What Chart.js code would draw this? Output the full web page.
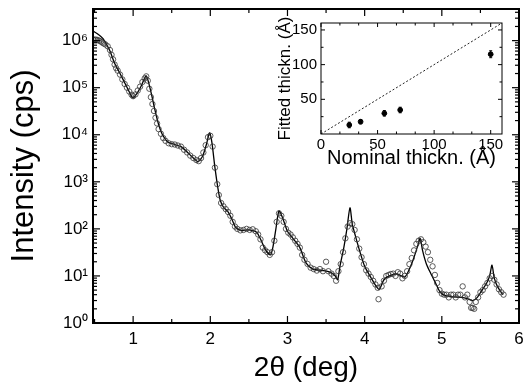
<!DOCTYPE html>
<html lang="en">
<head>
<meta charset="UTF-8">
<title>X-ray reflectivity</title>
<script src="https://cdn.jsdelivr.net/npm/chart.js"></script>
<style>
  body { margin: 0; background: #fff; }
  #wrap { position: relative; width: 524px; height: 390px; }
  #main { position: absolute; left: 0; top: 0; }
  #inset { position: absolute; left: 250px; top: 12px; }
</style>
</head>
<body>
<div id="wrap">
  <canvas id="main" width="524" height="390"></canvas>
  <canvas id="inset" width="262" height="172"></canvas>
</div>
<script>
// measured reflectivity (open circles)
const thetaMeas = [0.48,0.50,0.52,0.54,0.56,0.58,0.60,0.62,0.64,0.67,0.70,0.72,0.74,0.76,0.78,0.80,0.83,0.86,0.89,0.92,0.95,0.98,1.00,1.03,1.06,1.09,1.12,1.15,1.17,1.19,1.21,1.23,1.25,1.27,1.29,1.31,1.33,1.36,1.39,1.42,1.46,1.50,1.54,1.58,1.62,1.66,1.70,1.74,1.78,1.82,1.85,1.88,1.91,1.94,1.97,2.00,2.03,2.06,2.09,2.11,2.14,2.17,2.20,2.23,2.26,2.29,2.32,2.35,2.39,2.43,2.47,2.51,2.55,2.59,2.62,2.65,2.68,2.71,2.74,2.77,2.80,2.83,2.86,2.89,2.92,2.95,2.98,3.01,3.04,3.07,3.10,3.13,3.16,3.19,3.22,3.26,3.30,3.34,3.38,3.42,3.46,3.50,3.53,3.57,3.60,3.63,3.66,3.69,3.72,3.75,3.78,3.81,3.84,3.87,3.90,3.93,3.96,3.99,4.02,4.05,4.08,4.11,4.14,4.17,4.18,4.22,4.25,4.28,4.31,4.34,4.37,4.40,4.43,4.46,4.49,4.52,4.55,4.58,4.61,4.64,4.67,4.70,4.73,4.76,4.79,4.82,4.85,4.88,4.91,4.94,4.97,5.00,5.03,5.06,5.09,5.12,5.15,5.18,5.21,5.24,5.27,5.30,5.33,5.36,5.38,5.40,5.42,5.44,5.47,5.50,5.53,5.56,5.59,5.62,5.65,5.68,5.71,5.74,5.77,5.80];
const intensityMeas = [1.05e6,1.05e6,1.05e6,1.03e6,1.0e6,9.6e5,9.1e5,8.7e5,8.3e5,7.6e5,6.3e5,5.0e5,4.0e5,3.1e5,2.6e5,2.3e5,1.9e5,1.5e5,1.2e5,1.0e5,8.3e4,7.1e4,6.6e4,7.2e4,8.7e4,1.05e5,1.32e5,1.58e5,1.74e5,1.41e5,9.5e4,6.3e4,4.5e4,3.2e4,2.3e4,1.74e4,1.32e4,1.05e4,8500,7400,6600,6300,6200,5900,5600,4800,4200,3600,3200,2900,2750,3200,4200,6000,8900,9500,5600,2000,890,525,355,302,263,229,190,141,112,100,93,95,100,95,98,89,76,60,40,35,32,28,32,56,141,214,190,141,100,83,76,66,56,48,40,28,22,18,15,14,13,14,12.6,20,12.6,11.2,10,7.9,12.6,17.8,32,63,112,132,126,95,60,38,25,17.8,13.2,11.2,9.5,7.9,6.6,5.6,3.2,6.0,7.9,10,10.5,11,11.2,10,12,11.2,8.9,10,12.6,17.8,24,35,48,56,60,52,42,32,22,16,10.5,7.1,5.0,4.2,4.0,4.0,3.5,4.0,4.0,3.5,4.0,4.0,6.0,3.5,4.0,2.8,2.1,2.1,2.0,2.8,3.5,4.5,5.0,6.0,7.1,8.9,10,8.3,6.6,5.2,4.5,4.0];

// fitted curve (solid line)
const thetaFit = [0.48,0.55,0.61,0.66,0.70,0.76,0.83,0.91,0.97,1.00,1.05,1.10,1.15,1.17,1.20,1.24,1.28,1.33,1.38,1.45,1.54,1.62,1.70,1.78,1.84,1.90,1.95,1.99,2.02,2.06,2.10,2.13,2.17,2.23,2.28,2.33,2.40,2.50,2.60,2.66,2.72,2.78,2.81,2.85,2.89,2.94,3.00,3.08,3.16,3.24,3.33,3.46,3.55,3.62,3.65,3.68,3.73,3.77,3.81,3.84,3.88,3.94,4.00,4.08,4.15,4.19,4.25,4.32,4.42,4.52,4.58,4.64,4.69,4.72,4.75,4.80,4.86,4.92,4.98,5.05,5.15,5.25,5.33,5.40,5.46,5.52,5.58,5.62,5.65,5.68,5.72,5.79];
const intensityFit = [1.6e6,1.35e6,1.1e6,8.0e5,6.0e5,3.3e5,2.0e5,1.1e5,7.0e4,6.0e4,7.6e4,1.05e5,1.6e5,1.78e5,1.3e5,7.0e4,3.5e4,1.65e4,1.0e4,7000,6200,5600,4300,3200,2700,3500,6300,1.1e4,7000,2000,710,400,290,230,160,107,93,95,85,56,35,28,40,100,240,166,89,60,40,19,14,13,12,10,8.3,16,40,100,280,126,71,32,16,9.3,6,5.2,8.3,10,11,9.5,14,25,45,63,35,18,11,7,4.5,3.8,3.6,3.5,3.3,3.0,3.5,5,7,10,17,9,6,4];

// axis ticks of the main plot
const mainXTicks = [1, 2, 3, 4, 5, 6];
const mainXMinor = [0.5, 1.5, 2.5, 3.5, 4.5, 5.5];
const mainYTicks = [1, 10, 100, 1e3, 1e4, 1e5, 1e6];

// inset: fitted vs nominal thickness
const nominalThk = [25, 35, 56, 70, 150];
const fittedThk = [13, 17.7, 29.8, 34.6, 115];
const fittedErr = [4, 3, 4, 4, 5];
const idealLine = [0, 160];
const insetXTicks = [0, 50, 100, 150];
const insetXMinor = [16.7, 33.3, 66.7, 83.3, 116.7, 133.3];
const insetYTicks = [50, 100, 150];
const insetYMinor = [25, 75, 125];

const FONT = 'Liberation Sans, Arial, Helvetica, sans-serif';
const sup = ['⁰','¹','²','³','⁴','⁵','⁶','⁷'];

// frame + inward tick marks on all four sides
const frameTicks = {
  id: 'frameTicks',
  afterDatasetsDraw(chart, args, o) {
    const {ctx, chartArea: a} = chart;
    const x = chart.scales.x, y = chart.scales.y;
    ctx.save();
    ctx.strokeStyle = '#000';
    ctx.lineWidth = o.tickWidth;
    const seg = (x0, y0, x1, y1) => { ctx.beginPath(); ctx.moveTo(x0, y0); ctx.lineTo(x1, y1); ctx.stroke(); };
    const xs = (vals, len) => vals.forEach(v => {
      const p = x.getPixelForValue(v);
      if (p < a.left || p > a.right) return;
      seg(p, a.bottom, p, a.bottom - len);
      seg(p, a.top, p, a.top + len);
    });
    const ys = (vals, len) => vals.forEach(v => {
      const p = y.getPixelForValue(v);
      if (p < a.top - 0.5 || p > a.bottom + 0.5) return;
      seg(a.left, p, a.left + len, p);
      seg(a.right, p, a.right - len, p);
    });
    xs(o.xMajor, o.major); xs(o.xMinor, o.minor);
    ys(o.yMajor, o.major); ys(o.yMinor, o.minor);
    ctx.lineWidth = o.frameWidth;
    ctx.strokeRect(a.left, a.top, a.right - a.left, a.bottom - a.top);
    ctx.restore();
  }
};

// vertical error bars for the inset
const errorBars = {
  id: 'errorBars',
  afterDatasetsDraw(chart, args, o) {
    if (!o.values) return;
    const {ctx} = chart;
    const x = chart.scales.x, y = chart.scales.y;
    const ds = chart.data.datasets[o.dataset];
    ctx.save();
    ctx.strokeStyle = '#000';
    ctx.lineWidth = 1;
    ds.data.forEach((p, i) => {
      const px = x.getPixelForValue(p.x);
      const top = y.getPixelForValue(p.y + o.values[i]);
      const bot = y.getPixelForValue(p.y - o.values[i]);
      ctx.beginPath();
      ctx.moveTo(px, top); ctx.lineTo(px, bot);
      ctx.moveTo(px - 1.5, top); ctx.lineTo(px + 1.5, top);
      ctx.moveTo(px - 1.5, bot); ctx.lineTo(px + 1.5, bot);
      ctx.stroke();
    });
    ctx.restore();
  }
};

// fixed axis box sizes, no label overhang padding
const fixW = w => s => { s.width = w; s.paddingTop = 0; s.paddingBottom = 0; };
const fixH = h => s => { s.height = h; s.paddingLeft = 0; s.paddingRight = 0; };

const yMinorMain = [];
mainYTicks.forEach(d => { for (let k = 2; k <= 9; k++) yMinorMain.push(d * k); });

new Chart(document.getElementById('main'), {
  type: 'scatter',
  data: {
    datasets: [
      {
        data: thetaMeas.map((t, i) => ({x: t, y: intensityMeas[i]})),
        pointStyle: 'circle',
        pointRadius: 2.7,
        pointBorderWidth: 0.8,
        pointBorderColor: '#333',
        pointBackgroundColor: 'rgba(255,255,255,0)',
        order: 1
      },
      {
        data: thetaFit.map((t, i) => ({x: t, y: intensityFit[i]})),
        showLine: true,
        pointRadius: 0,
        borderColor: '#000',
        borderWidth: 1.3,
        tension: 0.25,
        order: 2
      }
    ]
  },
  options: {
    responsive: false,
    animation: false,
    events: [],
    layout: { padding: { top: 9, right: 5, left: 0, bottom: 0 } },
    plugins: {
      legend: { display: false },
      tooltip: { enabled: false },
      frameTicks: { xMajor: mainXTicks, xMinor: mainXMinor, yMajor: mainYTicks, yMinor: yMinorMain, major: 7, minor: 4, tickWidth: 1.2, frameWidth: 2 },
      errorBars: {}
    },
    scales: {
      x: {
        type: 'linear', min: 0.48, max: 6,
        grid: { display: false, drawTicks: false },
        border: { display: false },
        afterBuildTicks: s => { s.ticks = mainXTicks.map(v => ({value: v})); },
        afterFit: fixH(67),
        ticks: { color: '#000', font: { family: FONT, size: 17 }, padding: 6, maxRotation: 0 },
        title: { display: true, text: '2θ (deg)', color: '#000', font: { family: FONT, size: 28 }, padding: { bottom: 5 } }
      },
      y: {
        type: 'logarithmic', min: 1, max: 4.7e6,
        grid: { display: false, drawTicks: false },
        border: { display: false },
        afterBuildTicks: s => { s.ticks = mainYTicks.map(v => ({value: v})); },
        afterFit: fixW(93),
        ticks: { color: '#000', font: { family: FONT, size: 17 }, padding: 5,
          callback: v => '10' + sup[Math.round(Math.log10(v))] },
        title: { display: true, text: 'Intensity (cps)', color: '#000', font: { family: FONT, size: 31 }, padding: { top: 6 } }
      }
    }
  },
  plugins: [frameTicks]
});

new Chart(document.getElementById('inset'), {
  type: 'scatter',
  data: {
    datasets: [
      {
        data: nominalThk.map((t, i) => ({x: t, y: fittedThk[i]})),
        pointStyle: 'circle',
        pointRadius: 2.4,
        pointBackgroundColor: '#000',
        pointBorderColor: '#000',
        order: 1
      },
      {
        data: idealLine.map(v => ({x: v, y: v})),
        showLine: true,
        pointRadius: 0,
        borderColor: '#222',
        borderWidth: 1,
        borderDash: [2, 2],
        order: 2
      }
    ]
  },
  options: {
    responsive: false,
    animation: false,
    events: [],
    layout: { padding: { top: 11, right: 10, left: 0, bottom: 0 } },
    plugins: {
      legend: { display: false },
      tooltip: { enabled: false },
      frameTicks: { xMajor: insetXTicks, xMinor: insetXMinor, yMajor: insetYTicks, yMinor: insetYMinor, major: 4, minor: 2.5, tickWidth: 1, frameWidth: 1 },
      errorBars: { dataset: 0, values: fittedErr }
    },
    scales: {
      x: {
        type: 'linear', min: 0, max: 160,
        grid: { display: false, drawTicks: false },
        border: { display: false },
        afterBuildTicks: s => { s.ticks = insetXTicks.map(v => ({value: v})); },
        afterFit: fixH(50),
        ticks: { color: '#000', font: { family: FONT, size: 15 }, padding: 2, maxRotation: 0 },
        title: { display: true, text: 'Nominal thickn. (Å)', color: '#000', font: { family: FONT, size: 20 }, padding: { bottom: 14 } }
      },
      y: {
        type: 'linear', min: 0, max: 160,
        grid: { display: false, drawTicks: false },
        border: { display: false },
        afterBuildTicks: s => { s.ticks = insetYTicks.map(v => ({value: v})); },
        afterFit: fixW(71),
        ticks: { color: '#000', font: { family: FONT, size: 15 }, padding: 4 },
        title: { display: true, text: 'Fitted thickn. (Å)', color: '#000', font: { family: FONT, size: 17 }, padding: { top: 25 } }
      }
    }
  },
  plugins: [frameTicks, errorBars]
});
</script>
</body>
</html>
